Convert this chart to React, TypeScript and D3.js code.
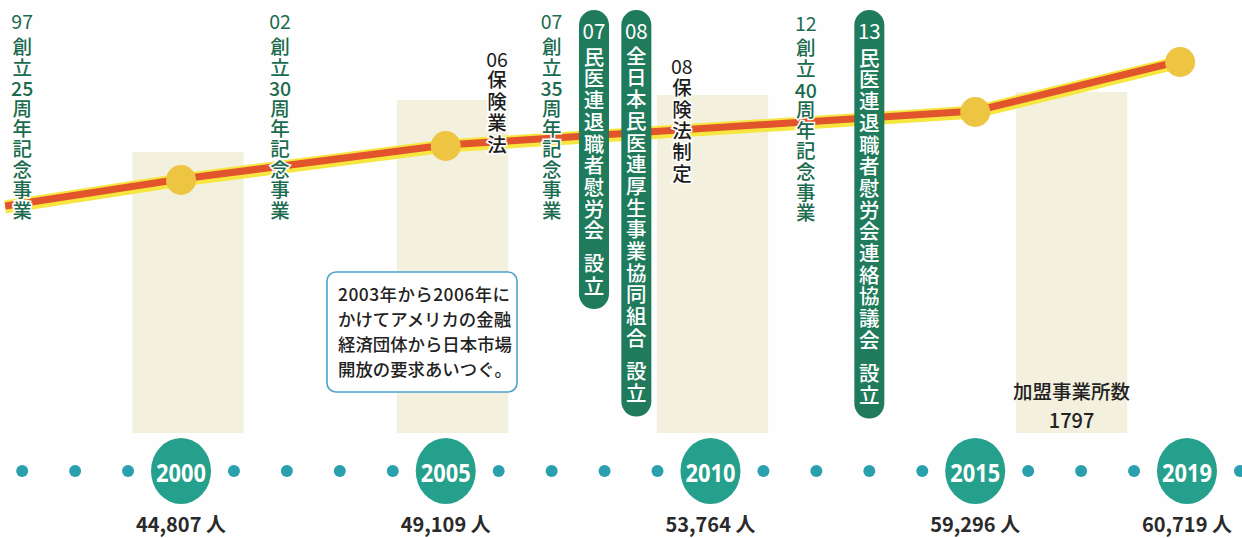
import React from "react";
import * as d3 from "d3";

// ---- data ----
const milestoneYears = [2000, 2005, 2010, 2015, 2019];
const milestoneLabels = ["2000", "2005", "2010", "2015", "2019"];
const members = ["44,807", "49,109", "53,764", "59,296", "60,719"];
const tickDotYears = [1997, 1998, 1999, 2001, 2002, 2003, 2004, 2006, 2007, 2008, 2009, 2011, 2012, 2013, 2014, 2016, 2017, 2018, 2020];

// trend line (relative level)
const lineYears = [1996.68, 2000, 2005, 2015, 2018.87];
const lineLevels = [56.5, 63.25, 71.75, 80.25, 92.75];
const lineMarkerIdx = [1, 2, 3, 4];

// beige columns
const columnYears = [2000.13, 2005.13, 2010.04, 2016.82];
const columnLevels = [70.25, 83.25, 84.5, 85.25];

// vertical annotations
type Ann = { year: number; kind: "green" | "black" | "pill"; num: string; main: string[]; tail?: string[]; numY: number; firstY: number; pitch: number };
const annotations: Ann[] = [
  { year: 1997, kind: "green", num: "97", main: ["創", "立", "25", "周", "年", "記", "念", "事", "業"], numY: 20, firstY: 47, pitch: 20.4 },
  { year: 2001.87, kind: "green", num: "02", main: ["創", "立", "30", "周", "年", "記", "念", "事", "業"], numY: 20, firstY: 47, pitch: 20.4 },
  { year: 2005.97, kind: "black", num: "06", main: ["保", "険", "業", "法"], numY: 58, firstY: 80, pitch: 21.5 },
  { year: 2007, kind: "green", num: "07", main: ["創", "立", "35", "周", "年", "記", "念", "事", "業"], numY: 20, firstY: 47, pitch: 20.4 },
  { year: 2007.8, kind: "pill", num: "07", main: ["民", "医", "連", "退", "職", "者", "慰", "労", "会"], tail: ["設", "立"], numY: 30, firstY: 57, pitch: 21.7 },
  { year: 2008.6, kind: "pill", num: "08", main: ["全", "日", "本", "民", "医", "連", "厚", "生", "事", "業", "協", "同", "組", "合"], tail: ["設", "立"], numY: 30, firstY: 56, pitch: 21.7 },
  { year: 2009.46, kind: "black", num: "08", main: ["保", "険", "法", "制", "定"], numY: 65, firstY: 88, pitch: 21.3 },
  { year: 2011.8, kind: "green", num: "12", main: ["創", "立", "40", "周", "年", "記", "念", "事", "業"], numY: 22, firstY: 48, pitch: 20.6 },
  { year: 2013, kind: "pill", num: "13", main: ["民", "医", "連", "退", "職", "者", "慰", "労", "会", "連", "絡", "協", "議", "会"], tail: ["設", "立"], numY: 30, firstY: 58, pitch: 21.7 },
];

const noteLines = ["2003年から2006年に", "かけてアメリカの金融", "経済団体から日本市場", "開放の要求あいつぐ。"];
const officeLabel = "加盟事業所数";
const officeCount = "1797";

const JP = "'Noto Sans CJK JP', 'Noto Sans', sans-serif";

type Run = { text: string; y: number; vertical: boolean; n: number };

export default function App() {
  const W = 1242, H = 538;
  const x = d3.scaleLinear().domain([2000, 2019]).range([181, 1187]);
  const y = d3.scaleLinear().domain([0, 100]).range([433, 33]);
  const colW = x(2002.1) - x(2000);

  const pts = lineYears.map((yr, i) => ({ yr, v: lineLevels[i] }));
  const line = d3.line<{ yr: number; v: number }>().x(d => x(d.yr)).y(d => y(d.v));
  const path = line(pts) || "";

  const timelineY = 471;

  const renderAnn = (a: Ann, i: number) => {
    const cx = x(a.year);
    const isPill = a.kind === "pill";
    const color = isPill ? "#ffffff" : a.kind === "green" ? "#1b6b4e" : "#1d1d1d";
    const fs = isPill ? 20.5 : 19.5;
    const ls = a.pitch - fs;
    const runs: Run[] = [{ text: a.num, y: a.numY, vertical: false, n: 1 }];
    a.main.forEach((t, j) => {
      const cy = a.firstY + j * a.pitch;
      const isDigit = /^[0-9]+$/.test(t);
      const prev = runs[runs.length - 1];
      if (!isDigit && prev.vertical && Math.abs(prev.y + prev.n * a.pitch - cy) < 0.5) {
        prev.text += t;
        prev.n += 1;
      } else {
        runs.push({ text: t, y: cy, vertical: !isDigit, n: 1 });
      }
    });
    let last = a.firstY + (a.main.length - 1) * a.pitch;
    let tailIdx = -1;
    if (a.tail) {
      const tailStart = last + 33;
      runs.push({ text: a.tail.join(""), y: tailStart, vertical: true, n: a.tail.length });
      tailIdx = runs.length - 1;
      last = tailStart + (a.tail.length - 1) * 22.5;
    }
    const halo = !isPill;
    return (
      <g key={i}>
        {isPill && (
          <rect x={cx - 15} y={10} width={30} height={last + 23 - 10} rx={15} ry={15} fill="#1f7b5b" />
        )}
        {runs.map((r, k) => {
          const common = {
            fontFamily: JP,
            fontSize: fs,
            fontWeight: k === 0 ? 400 : 500,
            fill: color,
            stroke: halo ? "#ffffff" : "none",
            strokeWidth: halo ? 3 : 0,
          };
          if (!r.vertical) {
            return (
              <text key={k} x={cx} y={r.y} textAnchor="middle" dominantBaseline="central" {...common} style={{ paintOrder: "stroke" } as any}>
                {r.text}
              </text>
            );
          }
          const spacing = k === tailIdx ? 22.5 - fs : ls;
          return (
            <text
              key={k}
              x={cx}
              y={r.y - fs / 2}
              {...common}
              style={{ paintOrder: "stroke", writingMode: "vertical-rl", textOrientation: "upright", letterSpacing: `${spacing}px` } as any}
            >
              {r.text}
            </text>
          );
        })}
      </g>
    );
  };

  return (
    <svg width={W} height={H} viewBox={`0 0 ${W} ${H}`} style={{ position: "absolute", left: 0, top: 0, background: "#ffffff" }}>
      <rect x={0} y={0} width={W} height={H} fill="#fefefe" />
      {/* columns */}
      {columnYears.map((yr, i) => (
        <rect key={i} x={x(yr) - colW / 2} y={y(columnLevels[i])} width={colW} height={y(0) - y(columnLevels[i])} fill="#f3f1de" />
      ))}

      {/* callout box */}
      <rect x={327} y={272} width={190} height={120} rx={9} ry={9} fill="#ffffff" stroke="#4ba3cf" strokeWidth={1.6} />
      {noteLines.map((t, i) => (
        <text
          key={i}
          x={338}
          y={293 + i * 25}
          dominantBaseline="central"
          fontFamily={JP}
          fontSize={17.4}
          fontWeight={500}
          fill="#222"
          textLength={i === 0 ? 172 : undefined}
          lengthAdjust="spacing"
        >
          {t}
        </text>
      ))}

      {/* trend line */}
      <path d={path} fill="none" stroke="#f7e640" strokeWidth={13} strokeLinejoin="round" />
      <path d={path} fill="none" stroke="#e2542b" strokeWidth={7} strokeLinejoin="round" transform="translate(0,-1)" />
      {lineMarkerIdx.map(i => (
        <circle key={i} cx={x(lineYears[i])} cy={y(lineLevels[i])} r={15} fill="#eec443" />
      ))}

      {/* annotations */}
      {annotations.map(renderAnn)}

      {/* office count */}
      <text x={x(columnYears[3])} y={390} textAnchor="middle" dominantBaseline="central" fontFamily={JP} fontSize={19.5} fontWeight={500} fill="#222">
        {officeLabel}
      </text>
      <text x={x(columnYears[3])} y={419} textAnchor="middle" dominantBaseline="central" fontFamily={JP} fontSize={20} fontWeight={500} fill="#222">
        {officeCount}
      </text>

      {/* timeline */}
      {tickDotYears.map(yr => (
        <circle key={yr} cx={x(yr)} cy={timelineY} r={6} fill="#2a9fae" />
      ))}
      {milestoneYears.map((yr, i) => (
        <g key={yr}>
          <ellipse cx={x(yr)} cy={timelineY} rx={30} ry={33} fill="#25a08c" />
          <text
            x={x(yr)}
            y={timelineY + 1}
            textAnchor="middle"
            dominantBaseline="central"
            fontFamily="'Open Sans', 'Noto Sans', sans-serif"
            fontWeight={700}
            fontSize={25}
            fill="#ffffff"
            textLength={50}
            lengthAdjust="spacingAndGlyphs"
          >
            {milestoneLabels[i]}
          </text>
          <text x={x(yr)} y={532} textAnchor="middle" fontFamily={JP} fontWeight={700} fontSize={20} fill="#2a2a2a">
            {members[i] + " 人"}
          </text>
        </g>
      ))}
    </svg>
  );
}
